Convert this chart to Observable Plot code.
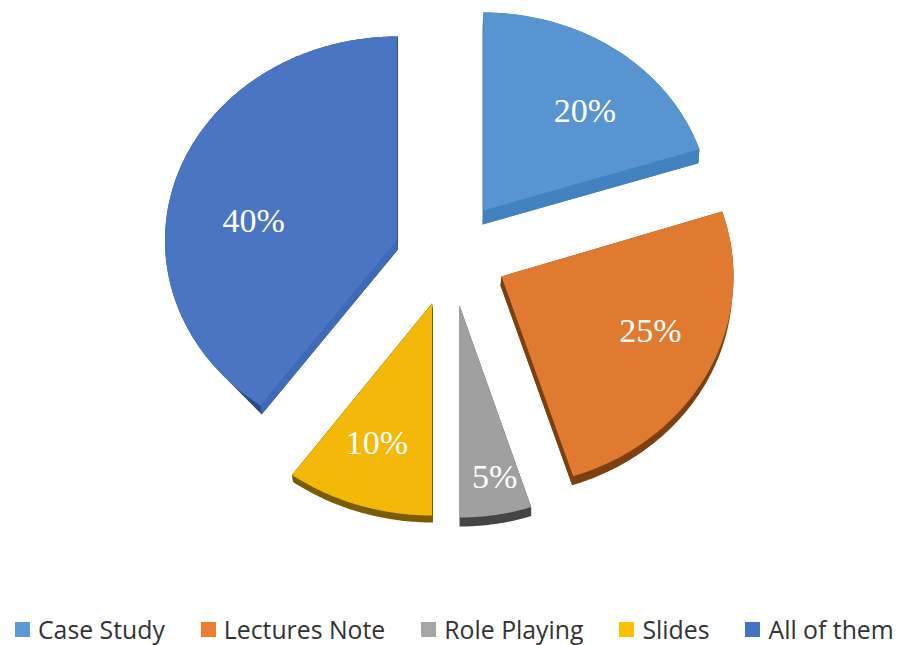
<!DOCTYPE html>
<html>
<head>
<meta charset="utf-8">
<script src="https://cdn.jsdelivr.net/npm/d3@7"></script>
<script src="https://cdn.jsdelivr.net/npm/@observablehq/plot@0.6"></script>
<style>
  html, body { margin: 0; padding: 0; background: #fff; width: 902px; height: 645px; overflow: hidden; }
  #chart svg { display: block; }
  #legend { display: flex; box-sizing: border-box; height: 28px; line-height: 28px; padding-left: 15px; align-items: center; gap: 36px;
    font-family: "Open Sans", sans-serif; font-size: 24.8px; color: #333; white-space: nowrap; }
  #legend .item { display: flex; align-items: center; gap: 8px; }
  #legend .sw { width: 15px; height: 15px; display: inline-block; flex: none; }
</style>
</head>
<body>
<div id="chart"></div>
<div id="legend"></div>
<script>
// Data
const categories = ["Case Study", "Lectures Note", "Role Playing", "Slides", "All of them"];
const shares = [20, 25, 5, 10, 40];
// Style
const colors = ["#5894cf", "#df7a30", "#a0a0a0", "#f4b908", "#4975c2"];
const legendColors = ["#5b9bd5", "#ed7d31", "#a5a5a5", "#ffc000", "#4472c4"];
const arcSideColors = ["#3f7ebd", "#7b4010", "#454545", "#7a5c04", "#2b4d85"];
const edgeSideColors = ["#4282bf", "#7b4010", "#454545", "#7a5c04", "#3f6ab6"];
// Layout of the exploded, tilted pie
const centerX = [483, 501, 459, 431.5, 396.5];
const centerY = [210, 276, 305, 303, 240];
const radiusX = [227, 232, 232, 238, 232];
const radiusY = [198, 210, 212, 212, 204];
const depthX = [-1, -1, 0, 1, 1];
const depthY = [14, 9, 9, 7, 9];
const labelFx = [0.76, 0.72, 0.97, 0.75, 0.65];
const labelFy = [0.62, 0.57, 0.82, 0.69, 0.30];

const width = 902, height = 615;
const total = d3.sum(shares);
let running = 0;
const slices = categories.map((category, i) => {
  const a0 = running / total * 2 * Math.PI;
  running += shares[i];
  const a1 = running / total * 2 * Math.PI;
  const at = a => [centerX[i] + radiusX[i] * Math.sin(a), centerY[i] - radiusY[i] * Math.cos(a)];
  const n = Math.max(2, Math.round((a1 - a0) * 90));
  const arc = d3.range(n + 1).map(k => at(a0 + (a1 - a0) * k / n));
  const apex = [centerX[i], centerY[i]];
  const outline = [apex, ...arc];
  const shift = p => [p[0] + depthX[i], p[1] + depthY[i]];
  // The large slice only shows a thin sliver of wall by its lower tip and along its straight right side
  const hull = i === 4
    ? d3.polygonHull([...outline, shift(arc[0]), shift(apex), [arc[n][0] + 1, arc[n][1]]])
    : d3.polygonHull([...outline, ...outline.map(shift)]);
  const edgeEnd = i === 4 ? arc[0] : arc[n];
  const wall = [apex, edgeEnd, shift(edgeEnd), shift(apex)];
  const mid = (a0 + a1) / 2;
  const label = {
    category,
    text: shares[i] + "%",
    x: centerX[i] + labelFx[i] * radiusX[i] * Math.sin(mid),
    y: centerY[i] - labelFy[i] * radiusY[i] * Math.cos(mid)
  };
  return {category, i, outline, hull, wall, label};
});

const toRows = (pts, category) => pts.map(([x, y]) => ({x, y, category}));
const topRows = slices.flatMap(s => toRows(s.outline, s.category));
const lineOpts = {x: "x", y: "y", z: "category", stroke: "none", curve: "linear-closed"};

const plot = Plot.plot({
  width, height,
  margin: 0,
  x: {axis: null, domain: [0, width], range: [0, width]},
  y: {axis: null, domain: [height, 0], range: [height, 0]},
  color: {domain: categories, range: colors},
  marks: [
    ...slices.map(s => Plot.line(toRows(s.hull, s.category), {...lineOpts, fill: arcSideColors[s.i]})),
    ...slices.map(s => Plot.line(toRows(s.wall, s.category), {...lineOpts, fill: edgeSideColors[s.i]})),
    Plot.line(topRows, {...lineOpts, fill: "category"}),
    Plot.text(slices.map(s => s.label), {
      x: "x", y: "y", text: "text", fill: "white",
      fontFamily: "Liberation Serif", fontSize: 34, textAnchor: "middle"
    })
  ]
});
document.getElementById("chart").append(plot);

const legend = d3.select("#legend");
categories.forEach((c, i) => {
  const item = legend.append("div").attr("class", "item");
  item.append("span").attr("class", "sw").style("background", legendColors[i]);
  item.append("span").text(c);
});
</script>
</body>
</html>
